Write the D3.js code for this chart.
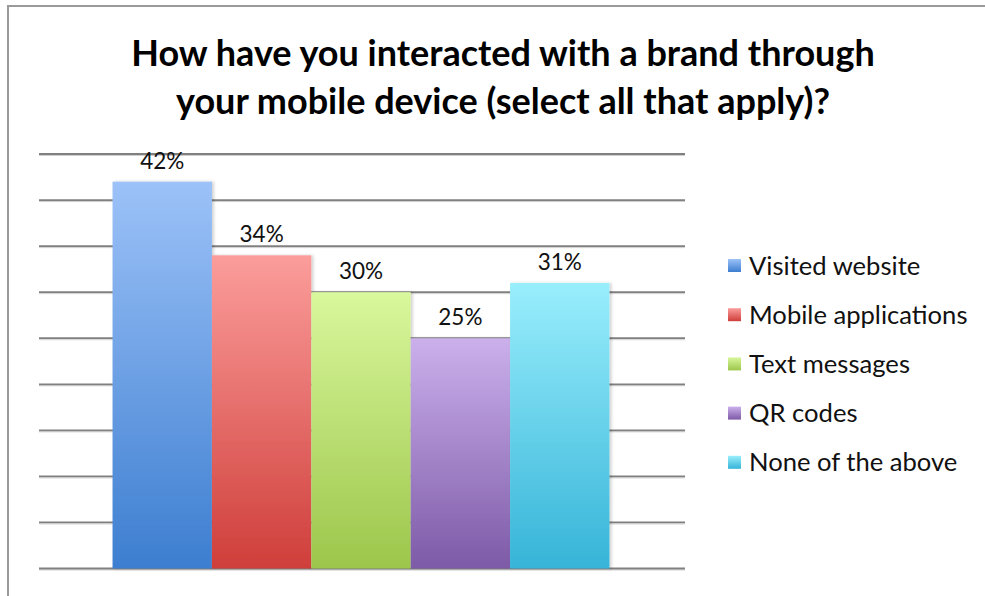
<!DOCTYPE html>
<html>
<head>
<meta charset="utf-8">
<script src="https://cdn.jsdelivr.net/npm/d3@7"></script>
<style>
  html, body { margin: 0; padding: 0; background: #fff; }
  svg { display: block; }
</style>
</head>
<body>
<svg id="chart" width="985" height="596"></svg>
<script>
// Survey responses (percent of respondents)
const series = ["Visited website", "Mobile applications", "Text messages", "QR codes", "None of the above"];
const values = [42, 34, 30, 25, 31];
const yTicks = [0, 5, 10, 15, 20, 25, 30, 35, 40, 45];
const titleLines = ["How have you interacted with a brand through", "your mobile device (select all that apply)?"];
// Gradient stops per series: lighter at the top, deeper at the base
const topColors = ["#9cc2f8", "#fb9d9b", "#d9f79c", "#cbb0ec", "#99eefc"];
const bottomColors = ["#3d7ed0", "#cf3e3a", "#9cc64b", "#7d5aa7", "#36b4d8"];

const W = 985, H = 596;
const plot = { left: 39, right: 685, top: 154, bottom: 568.5 };
const font = "Lato, 'Open Sans', sans-serif";

const svg = d3.select("#chart");
const defs = svg.append("defs");

series.forEach((s, i) => {
  const g = defs.append("linearGradient")
    .attr("id", "grad" + i)
    .attr("x1", 0).attr("y1", 0).attr("x2", 0).attr("y2", 1);
  g.append("stop").attr("offset", "0%").attr("stop-color", topColors[i]);
  g.append("stop").attr("offset", "100%").attr("stop-color", bottomColors[i]);
});

const shadow = defs.append("filter").attr("id", "barShadow")
  .attr("x", "-10%").attr("y", "-5%").attr("width", "125%").attr("height", "110%");
shadow.append("feDropShadow").attr("dx", 2).attr("dy", 0).attr("stdDeviation", 1.5)
  .attr("flood-color", "#000").attr("flood-opacity", 0.18);

// Outer frame (runs past the right and bottom edges)
svg.append("rect")
  .attr("x", 8).attr("y", 6).attr("width", W + 20).attr("height", H + 20)
  .attr("fill", "none").attr("stroke", "#9a9a9a").attr("stroke-width", 2);

// Title
svg.append("g").selectAll("text")
  .data(titleLines)
  .join("text")
  .attr("x", 503)
  .attr("y", (d, i) => 66 + i * 48)
  .attr("text-anchor", "middle")
  .attr("font-family", font)
  .attr("font-weight", "bold")
  .attr("font-size", 36)
  .attr("fill", "#000")
  .text(d => d);

// Scales
const y = d3.scaleLinear().domain([0, 45]).range([plot.bottom, plot.top]);
const gapRatio = 1.5; // space around the cluster, in bar widths
const barW = (plot.right - plot.left) / (series.length + gapRatio);
const x = d3.scaleBand()
  .domain(series)
  .range([plot.left + barW * gapRatio / 2 - 1, plot.left + barW * gapRatio / 2 - 1 + barW * series.length])
  .padding(0);

// Gridlines
const grid = svg.append("g");
grid.selectAll("line.shade")
  .data(yTicks)
  .join("line")
  .attr("class", "shade")
  .attr("x1", plot.left).attr("x2", plot.right)
  .attr("y1", d => y(d) + 1.5).attr("y2", d => y(d) + 1.5)
  .attr("stroke", "#cfcfcf").attr("stroke-width", 1);
grid.selectAll("line.main")
  .data(yTicks)
  .join("line")
  .attr("class", "main")
  .attr("x1", plot.left).attr("x2", plot.right)
  .attr("y1", d => y(d)).attr("y2", d => y(d))
  .attr("stroke", "#808080").attr("stroke-width", 1.8);

// Bars
const data = series.map((s, i) => ({ name: s, value: values[i], i }));
svg.append("g").selectAll("rect")
  .data(data)
  .join("rect")
  .attr("x", d => x(d.name))
  .attr("y", d => y(d.value))
  .attr("width", x.bandwidth())
  .attr("height", d => y(0) - y(d.value))
  .attr("fill", d => `url(#grad${d.i})`)
  .attr("filter", "url(#barShadow)");

// Value labels
svg.append("g").selectAll("text")
  .data(data)
  .join("text")
  .attr("x", d => x(d.name) + x.bandwidth() / 2)
  .attr("y", d => y(d.value) - 13)
  .attr("text-anchor", "middle")
  .attr("font-family", font)
  .attr("font-size", 22.5)
  .attr("fill", "#111")
  .text(d => d.value + "%");

// Legend
const legend = svg.append("g").attr("transform", "translate(728,266)");
const item = legend.selectAll("g")
  .data(data)
  .join("g")
  .attr("transform", d => `translate(0,${d.i * 49.2})`);
item.append("rect")
  .attr("x", 0).attr("y", -7).attr("width", 13).attr("height", 13)
  .attr("fill", d => `url(#grad${d.i})`);
item.append("text")
  .attr("x", 21).attr("y", 8.5)
  .attr("font-family", font)
  .attr("font-size", 25.6)
  .attr("fill", "#111")
  .text(d => d.name);
</script>
</body>
</html>
